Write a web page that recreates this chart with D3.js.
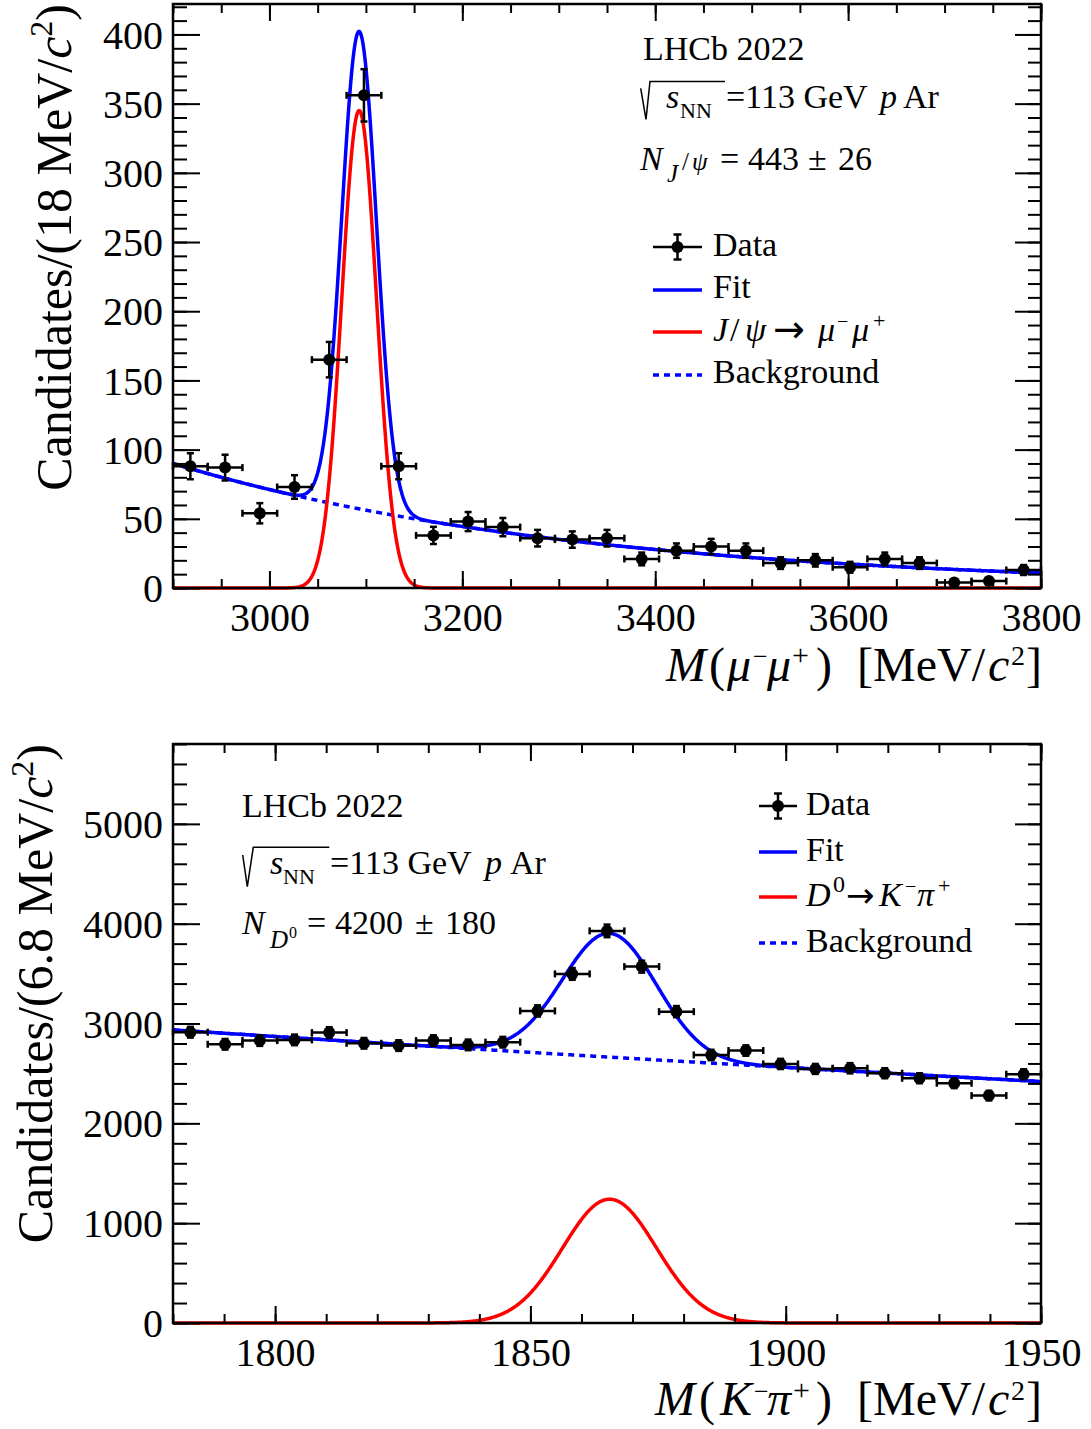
<!DOCTYPE html>
<html><head><meta charset="utf-8">
<script src="https://cdn.jsdelivr.net/npm/d3@7"></script>
<style>
body{margin:0;background:#fff}
svg{display:block}
text{font-family:"Liberation Serif","Times New Roman",serif;fill:#000}
tspan.arrow{font-family:"DejaVu Sans",sans-serif}
</style>
</head><body>
<svg id="c" width="1091" height="1429"></svg>
<script>
// ---------- J/psi panel data ----------
const jpsiMass   = [2918,2954,2990,3026,3062,3098,3134,3170,3206,3242,3278,3314,3350,3386,3422,3458,3494,3530,3566,3602,3638,3674,3710,3746,3782];
const jpsiCounts = [88,87,54,73,165,356,88,38,48,44,36,35,36,21,27,30,27,18,20,15,21,18,4,5,13];
const jpsiErrors = [9.4,9.3,7.3,8.5,12.8,18.9,9.4,6.2,6.9,6.6,6.0,5.9,6.0,4.6,5.2,5.5,5.2,4.2,4.5,3.9,4.6,4.2,2.0,2.2,3.6];
const jpsiBinHalf = 18;
const jpsiXTicks = [3000,3200,3400,3600,3800];
const jpsiYTicks = [0,50,100,150,200,250,300,350,400];
const jpsiXDomain = [2900,3800];
const jpsiYDomain = [0,422];
// fit model parameters: [mean, sigma, peak height]
const jpsiSignalPars = [3093,18,345];
// background: [value at left edge, exponential slope]
const jpsiBkgPars = [90,0.00235];

// ---------- D0 panel data ----------
const d0Mass   = [1783.4,1790.2,1797.0,1803.8,1810.6,1817.4,1824.2,1831.0,1837.8,1844.6,1851.4,1858.2,1865.0,1871.8,1878.6,1885.4,1892.2,1899.0,1905.8,1912.6,1919.4,1926.2,1933.0,1939.8,1946.6];
const d0Counts = [2913,2792,2829,2836,2909,2802,2779,2829,2786,2813,3126,3497,3928,3570,3119,2685,2729,2595,2545,2552,2502,2452,2402,2278,2492];
const d0Errors = [54,53,53,53,54,53,53,53,53,53,56,59,63,60,56,52,52,51,50,51,50,50,49,48,50];
const d0BinHalf = 3.4;
const d0XTicks = [1800,1850,1900,1950];
const d0YTicks = [0,1000,2000,3000,4000,5000];
const d0XDomain = [1780,1950];
const d0YDomain = [0,5800];
const d0SignalPars = [1865.5,9.2,1240];
const d0BkgPars = [2936,0.00114];

const legendLabels = ["Data", "Fit", "Background"];
const panelText = ["LHCb 2022", "=113 GeV", "Ar"];

const svg = d3.select("#c");
const BLUE = "#0000ff", RED = "#ff0000";

function rich(parent, x, y, segs, opts = {}) {
  const t = parent.append("text").attr("x", x).attr("y", y).attr("font-size", opts.fs || 34);
  if (opts.anchor) t.attr("text-anchor", opts.anchor);
  if (opts.transform) t.attr("transform", opts.transform);
  let cur = 0;
  segs.forEach(s => {
    const sp = t.append("tspan").text(s.t);
    if (s.it) sp.attr("font-style", "italic");
    if (s.fs) sp.attr("font-size", s.fs);
    if (s.cls) sp.attr("class", s.cls);
    const target = s.dy || 0;
    if (target !== cur) { sp.attr("dy", target - cur); cur = target; }
    if (s.x !== undefined) sp.attr("x", s.x);
    if (s.dx) sp.attr("dx", s.dx);
  });
  return t;
}

function drawPanel(cfg) {
  const P = cfg.box;
  const g = svg.append("g");
  const x = d3.scaleLinear().domain(cfg.xDomain).range([P.x0, P.x1]);
  const y = d3.scaleLinear().domain(cfg.yDomain).range([P.y1, P.y0]);
  const clipId = "clip" + cfg.id;
  svg.append("clipPath").attr("id", clipId).append("rect")
    .attr("x", P.x0).attr("y", P.y0 - 3).attr("width", P.x1 - P.x0).attr("height", P.y1 - P.y0 + 6);

  const [m0, s0, a0] = cfg.sig;
  const [b0, k0] = cfg.bkg;
  const grid = d3.range(cfg.xDomain[0], cfg.xDomain[1] + 0.001, (cfg.xDomain[1] - cfg.xDomain[0]) / 1200);
  const bkgF = m => b0 * Math.exp(-k0 * (m - cfg.xDomain[0]));
  const sigF = m => a0 * Math.exp(-0.5 * ((m - m0) / s0) ** 2);
  const line = d3.line().x(d => x(d[0])).y(d => y(d[1]));
  const cg = g.append("g").attr("clip-path", `url(#${clipId})`).attr("fill", "none").attr("stroke-width", 3.5);
  cg.append("path").attr("d", line(grid.map(m => [m, bkgF(m)]))).attr("stroke", BLUE).attr("stroke-dasharray", "6,5");
  cg.append("path").attr("d", line(grid.map(m => [m, sigF(m)]))).attr("stroke", RED);
  cg.append("path").attr("d", line(grid.map(m => [m, sigF(m) + bkgF(m)]))).attr("stroke", BLUE);

  const dg = g.append("g").attr("stroke", "#000").attr("stroke-width", 2.5);
  cfg.mass.forEach((m, i) => {
    const cx = x(m), cy = y(cfg.counts[i]);
    const xl = x(m - cfg.half), xr = x(m + cfg.half);
    const yt = y(cfg.counts[i] + cfg.errs[i]), yb = y(cfg.counts[i] - cfg.errs[i]);
    dg.append("line").attr("x1", xl).attr("x2", xr).attr("y1", cy).attr("y2", cy);
    dg.append("line").attr("x1", xl).attr("x2", xl).attr("y1", cy - 3.5).attr("y2", cy + 3.5);
    dg.append("line").attr("x1", xr).attr("x2", xr).attr("y1", cy - 3.5).attr("y2", cy + 3.5);
    dg.append("line").attr("x1", cx).attr("x2", cx).attr("y1", yt).attr("y2", yb);
    dg.append("line").attr("x1", cx - 3.5).attr("x2", cx + 3.5).attr("y1", yt).attr("y2", yt);
    dg.append("line").attr("x1", cx - 3.5).attr("x2", cx + 3.5).attr("y1", yb).attr("y2", yb);
    dg.append("circle").attr("cx", cx).attr("cy", cy).attr("r", 6).attr("fill", "#000").attr("stroke", "none");
  });

  const fmt = d3.format("d");
  const ax = [];
  ax.push(g.append("g").attr("transform", `translate(0,${P.y1})`).call(d3.axisBottom(x).tickValues(cfg.xMinor).tickSize(-9).tickFormat("")));
  ax.push(g.append("g").attr("transform", `translate(0,${P.y1})`).call(d3.axisBottom(x).tickValues(cfg.xTicks).tickSize(-17).tickPadding(14.6).tickFormat(fmt)));
  ax.push(g.append("g").attr("transform", `translate(0,${P.y0})`).call(d3.axisTop(x).tickValues(cfg.xMinor).tickSize(-9).tickFormat("")));
  ax.push(g.append("g").attr("transform", `translate(0,${P.y0})`).call(d3.axisTop(x).tickValues(cfg.xTicks).tickSize(-17).tickFormat("")));
  ax.push(g.append("g").attr("transform", `translate(${P.x0},0)`).call(d3.axisLeft(y).tickValues(cfg.yMinor).tickSize(-14).tickFormat("")));
  ax.push(g.append("g").attr("transform", `translate(${P.x0},0)`).call(d3.axisLeft(y).tickValues(cfg.yTicks).tickSize(-27).tickPadding(10).tickFormat(fmt)));
  ax.push(g.append("g").attr("transform", `translate(${P.x1},0)`).call(d3.axisRight(y).tickValues(cfg.yMinor).tickSize(-13).tickFormat("")));
  ax.push(g.append("g").attr("transform", `translate(${P.x1},0)`).call(d3.axisRight(y).tickValues(cfg.yTicks).tickSize(-26).tickFormat("")));
  ax.forEach(a => {
    a.attr("font-family", null).attr("font-size", null);
    a.select(".domain").remove();
    a.selectAll(".tick line").attr("stroke", "#000").attr("stroke-width", 2);
    a.selectAll(".tick text").attr("font-size", 40).attr("fill", "#000");
  });
  g.selectAll("text").filter(function(){ return this.getAttribute("dy") === "0.32em"; }).attr("dy", "0.34em");

  g.append("rect").attr("x", P.x0).attr("y", P.y0).attr("width", P.x1 - P.x0).attr("height", P.y1 - P.y0)
    .attr("fill", "none").attr("stroke", "#000").attr("stroke-width", 2.5);
  return g;
}

function legendSymbols(g, items, x0, x1) {
  items.forEach(it => {
    if (it.kind === "data") {
      const cx = (x0 + x1) / 2;
      const s = g.append("g").attr("stroke", "#000").attr("stroke-width", 2.5);
      s.append("line").attr("x1", x0).attr("x2", x1).attr("y1", it.y).attr("y2", it.y);
      s.append("line").attr("x1", cx).attr("x2", cx).attr("y1", it.y - 12.5).attr("y2", it.y + 12.5);
      s.append("line").attr("x1", cx - 4).attr("x2", cx + 4).attr("y1", it.y - 12.5).attr("y2", it.y - 12.5);
      s.append("line").attr("x1", cx - 4).attr("x2", cx + 4).attr("y1", it.y + 12.5).attr("y2", it.y + 12.5);
      s.append("circle").attr("cx", cx).attr("cy", it.y).attr("r", 6).attr("fill", "#000").attr("stroke", "none");
    } else {
      const l = g.append("line").attr("x1", x0).attr("x2", x1).attr("y1", it.y).attr("y2", it.y)
        .attr("stroke", it.color).attr("stroke-width", 3.5);
      if (it.dash) l.attr("stroke-dasharray", "6,5");
    }
  });
}

// ---------------- top panel ----------------
const gTop = drawPanel({
  id: "top", box: {x0: 173, x1: 1041, y0: 4, y1: 588},
  xDomain: jpsiXDomain, yDomain: jpsiYDomain,
  xTicks: jpsiXTicks, yTicks: jpsiYTicks,
  xMinor: d3.range(2900, 3801, 50), yMinor: d3.range(0, 421, 10),
  mass: jpsiMass, counts: jpsiCounts, errs: jpsiErrors, half: jpsiBinHalf,
  sig: jpsiSignalPars, bkg: jpsiBkgPars
});

rich(gTop, 643, 60, [{t: panelText[0]}]);
gTop.append("path").attr("d", "M640.7,88.3 L646,119.3 L650,81.5 L725,81.5").attr("fill", "none").attr("stroke", "#000").attr("stroke-width", 1.5);
rich(gTop, 666, 108, [{t: "s", it: 1}, {t: "NN", fs: 22, dy: 10, x: 680}, {t: panelText[1], dy: 0, x: 726}, {t: "p", it: 1, x: 880}, {t: panelText[2], x: 903}]);
rich(gTop, 640, 170, [{t: "N", it: 1}, {t: "J", it: 1, fs: 25, dy: 12, x: 667}, {t: "/", fs: 25, x: 682}, {t: "ψ", it: 1, fs: 25, x: 692},
  {t: "=", dy: 0, x: 720}, {t: "443", x: 748}, {t: "±", x: 808}, {t: "26", x: 838}]);

legendSymbols(gTop, [
  {kind: "data", y: 247}, {y: 290, color: BLUE}, {y: 332, color: RED}, {y: 375, color: BLUE, dash: true}
], 653, 702);
rich(gTop, 713, 256, [{t: legendLabels[0]}]);
rich(gTop, 713, 298, [{t: legendLabels[1]}]);
rich(gTop, 713, 341, [{t: "J", it: 1}, {t: "/", x: 730}, {t: "ψ", it: 1, x: 745}, {t: "→", fs: 38, cls: "arrow", x: 773, dy: 1},
  {t: "μ", it: 1, x: 818, dy: 0}, {t: "−", fs: 20, dy: -13, x: 837}, {t: "μ", it: 1, dy: 0, x: 852}, {t: "+", fs: 22, dy: -13, x: 873}]);
rich(gTop, 713, 383, [{t: legendLabels[2]}]);

rich(gTop, 666, 681, [{t: "M", it: 1}, {t: "(", x: 709}, {t: "μ", it: 1, x: 727}, {t: "−", fs: 26, dy: -16, x: 753},
  {t: "μ", it: 1, dy: 0, x: 767}, {t: "+", fs: 30, dy: -16, x: 792},
  {t: ")", dy: 0, x: 816}, {t: "[MeV/", x: 857}, {t: "c", it: 1, x: 988}, {t: "2", fs: 28, dy: -16, x: 1011}, {t: "]", dy: 0, x: 1026}], {fs: 48});
rich(gTop, 0, 0, [{t: "Candidates/(18 MeV/"}, {t: "c", it: 1}, {t: "2", fs: 32, dy: -19}, {t: ")", dy: 0}],
  {fs: 50, anchor: "end", transform: "translate(71,4) rotate(-90)"});

// ---------------- bottom panel ----------------
const gBot = drawPanel({
  id: "bot", box: {x0: 173, x1: 1041, y0: 744, y1: 1323},
  xDomain: d0XDomain, yDomain: d0YDomain,
  xTicks: d0XTicks, yTicks: d0YTicks,
  xMinor: d3.range(1780, 1951, 10), yMinor: d3.range(0, 5801, 200),
  mass: d0Mass, counts: d0Counts, errs: d0Errors, half: d0BinHalf,
  sig: d0SignalPars, bkg: d0BkgPars
});

rich(gBot, 242, 817, [{t: panelText[0]}]);
gBot.append("path").attr("d", "M242.7,855 L247.3,886.7 L253.3,847.3 L329.3,847.3").attr("fill", "none").attr("stroke", "#000").attr("stroke-width", 1.5);
rich(gBot, 270, 874, [{t: "s", it: 1}, {t: "NN", fs: 22, dy: 10, x: 283}, {t: panelText[1], dy: 0, x: 330}, {t: "p", it: 1, x: 485}, {t: panelText[2], x: 510}]);
rich(gBot, 242, 934, [{t: "N", it: 1}, {t: "D", it: 1, fs: 25, dy: 14, x: 270}, {t: "0", fs: 16, dy: 4, x: 289},
  {t: "=", dy: 0, x: 307}, {t: "4200", x: 335}, {t: "±", x: 415}, {t: "180", x: 445}]);

legendSymbols(gBot, [
  {kind: "data", y: 806}, {y: 852, color: BLUE}, {y: 897, color: RED}, {y: 943, color: BLUE, dash: true}
], 759, 797);
rich(gBot, 806, 815, [{t: legendLabels[0]}]);
rich(gBot, 806, 861, [{t: legendLabels[1]}]);
rich(gBot, 806, 906, [{t: "D", it: 1}, {t: "0", fs: 24, dy: -14, x: 833}, {t: "→", fs: 34, cls: "arrow", dy: 1, x: 846},
  {t: "K", it: 1, dy: 0, x: 879}, {t: "−", fs: 20, dy: -13, x: 905}, {t: "π", it: 1, dy: 0, x: 917}, {t: "+", fs: 22, dy: -13, x: 938}]);
rich(gBot, 806, 952, [{t: legendLabels[2]}]);

rich(gBot, 655, 1415, [{t: "M", it: 1}, {t: "(", x: 699}, {t: "K", it: 1, x: 720}, {t: "−", fs: 26, dy: -15, x: 754},
  {t: "π", it: 1, dy: 0, x: 767}, {t: "+", fs: 30, dy: -15, x: 793},
  {t: ")", dy: 0, x: 816}, {t: "[MeV/", x: 857}, {t: "c", it: 1, x: 988}, {t: "2", fs: 28, dy: -15, x: 1011}, {t: "]", dy: 0, x: 1026}], {fs: 48});
rich(gBot, 0, 0, [{t: "Candidates/(6.8 MeV/"}, {t: "c", it: 1}, {t: "2", fs: 32, dy: -19}, {t: ")", dy: 0}],
  {fs: 50, anchor: "end", transform: "translate(52,744) rotate(-90)"});
</script>
</body></html>
